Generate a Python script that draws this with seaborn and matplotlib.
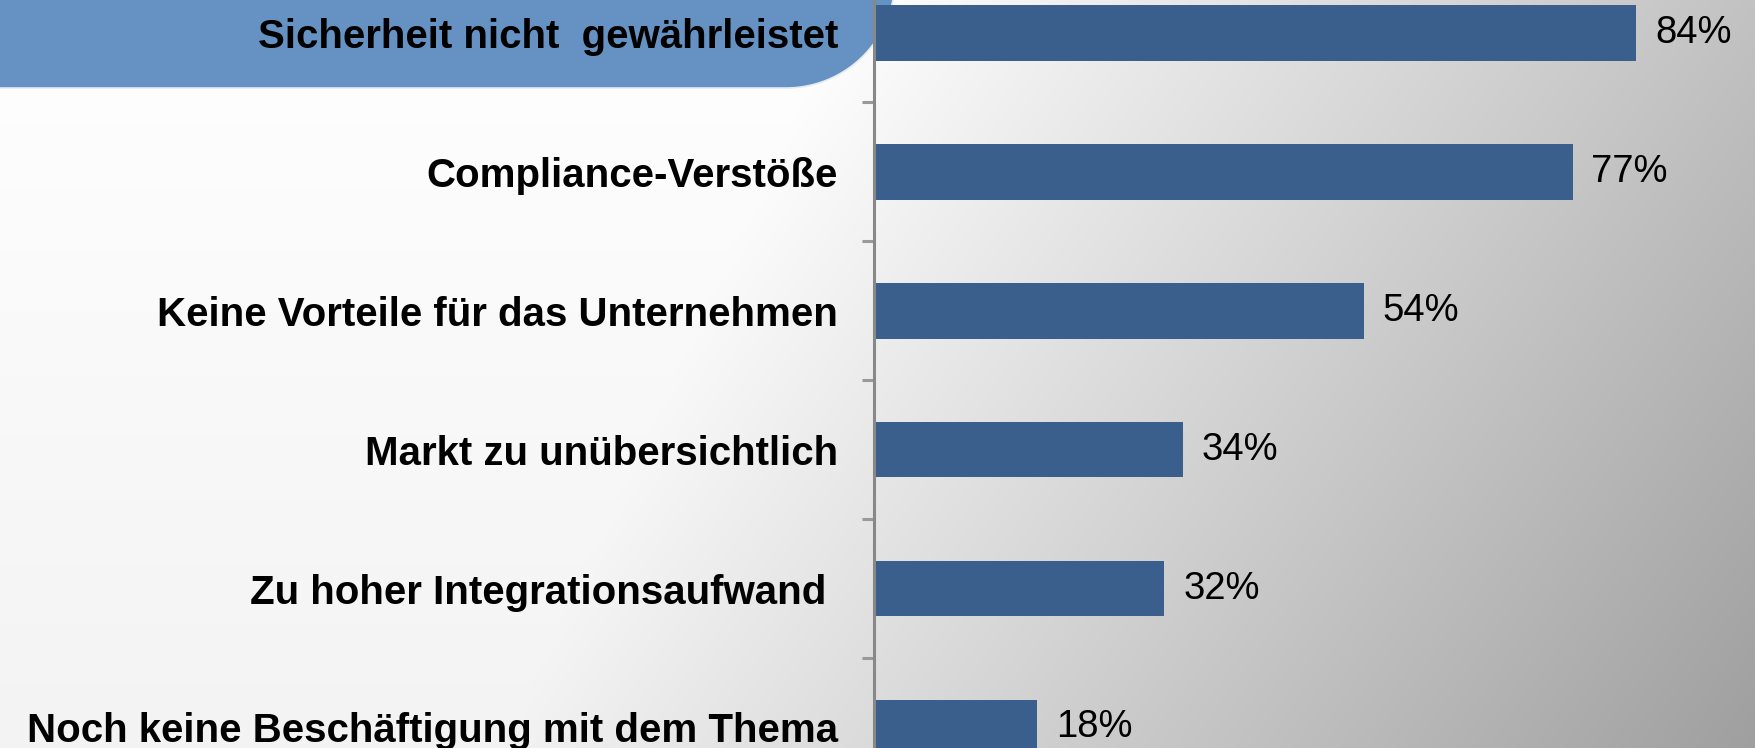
import numpy as np
import pandas as pd
import matplotlib
matplotlib.use("Agg")
import matplotlib.pyplot as plt
from matplotlib.patches import Polygon
import seaborn as sns

categories = [
    "Sicherheit nicht  gewährleistet",
    "Compliance-Verstöße",
    "Keine Vorteile für das Unternehmen",
    "Markt zu unübersichtlich",
    "Zu hoher Integrationsaufwand ",
    "Noch keine Beschäftigung mit dem Thema",
]
values = [84, 77, 54, 34, 32, 18]

bar_color = "#3a5f8c"
highlight_color = "#6591c3"

sns.set_theme(style="white")
plt.rcParams["font.family"] = ["Liberation Sans", "DejaVu Sans"]

W, H, DPI = 1756, 748, 100
fig = plt.figure(figsize=(W / DPI, H / DPI), dpi=DPI)

# background gradient
bg = fig.add_axes([0, 0, 1, 1], zorder=0)
xx, yy = np.meshgrid(np.arange(W), np.arange(H))
v = np.minimum(255 - 12 * yy / H, 210 - 0.0669 * (xx - 1230) - 0.0469 * (yy - 410))
v = np.clip(v, 0, 255) / 255.0
img = np.dstack([v, v, v])
bg.imshow(img, extent=(0, W, H, 0), aspect="auto", interpolation="bilinear")
# highlight shape behind first label
cx, cy, r = 786, -21, 109
ang = np.linspace(0, np.pi / 2, 60)
arc = np.column_stack([cx + r * np.cos(ang), cy + r * np.sin(ang)])
pts = np.vstack([[[-10, -60], [cx + r, -60]], arc, [[-10, cy + r]]])
bg.add_patch(Polygon(pts, closed=True, facecolor=highlight_color, edgecolor="#e4ebf3", lw=1.2))
bg.set_xlim(0, W)
bg.set_ylim(H, 0)
bg.axis("off")

# main chart
x0 = 874 / W
ax = fig.add_axes([x0, 0, 1 - x0, 1], zorder=1)
ax.patch.set_alpha(0)
df = pd.DataFrame({"cat": categories, "val": values})
sns.barplot(data=df, x="val", y="cat", color=bar_color, saturation=1, width=0.4,
            ax=ax, orient="h", edgecolor=bar_color, linewidth=0)
ax.set_xlabel("")
ax.set_ylabel("")
ax.set_xticks([])
for s in ["top", "right", "bottom"]:
    ax.spines[s].set_visible(False)
ax.spines["left"].set_color("#888888")
ax.spines["left"].set_linewidth(2.2)
ax.set_yticks(range(len(categories)))
ax.set_yticklabels(categories, fontsize=29, fontweight="bold", color="black")
ax.tick_params(axis="y", which="major", left=False, length=0, pad=26)
ax.set_yticks(np.arange(len(categories) + 1) - 0.5, minor=True)
ax.tick_params(axis="y", which="minor", left=True, length=9, width=2.2, color="#999999", direction="out")
ax.bar_label(ax.containers[0], labels=[f"{v}%" for v in values], padding=13.5, fontsize=27.5, color="black")
ax.set_xlim(0, 97.2)
ax.set_ylim(5.148, -0.238)

fig.savefig("out.png", dpi=DPI)
